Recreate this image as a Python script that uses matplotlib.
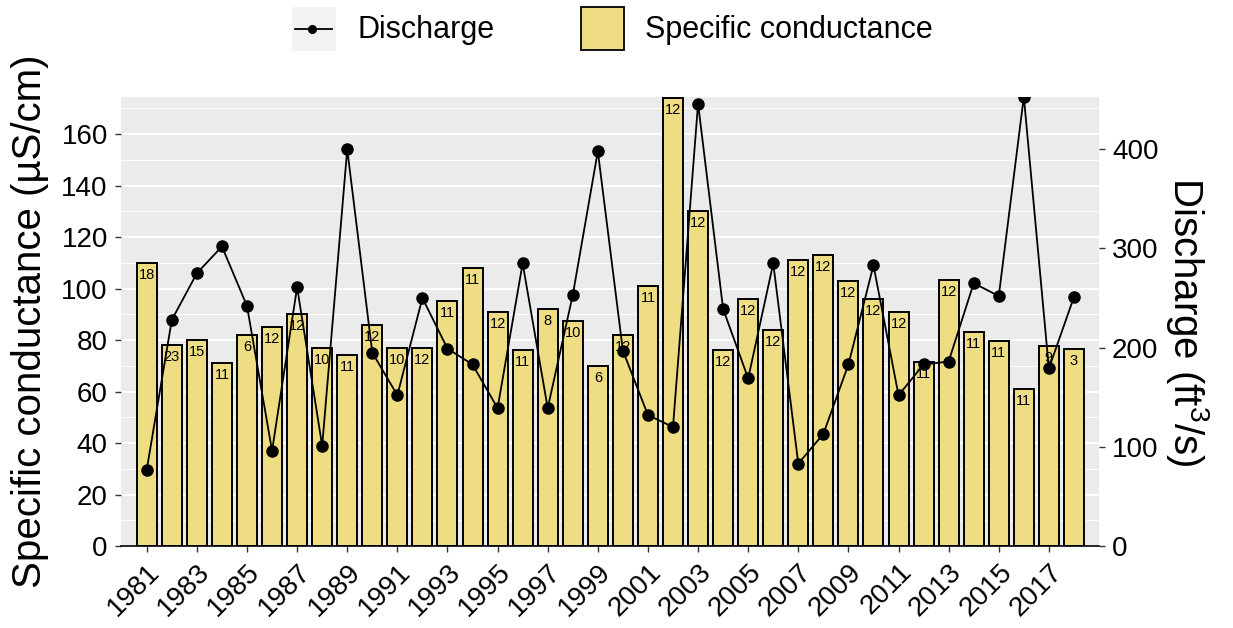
import matplotlib
matplotlib.use("Agg")
import matplotlib.pyplot as plt
from matplotlib.patches import Rectangle
from matplotlib.lines import Line2D
from matplotlib.ticker import MultipleLocator

plt.rcParams['font.family'] = ['Liberation Sans', 'DejaVu Sans']
plt.rcParams['mathtext.default'] = 'regular'

# data
years = list(range(1981, 2019))
spec_cond = [110, 78, 80, 71, 82, 85, 90, 77, 74, 86,
             77, 77, 95, 108, 91, 76, 92, 87.5, 70, 82,
             101, 174, 130, 76, 96, 84, 111, 113, 103, 96,
             91, 71.5, 103.5, 83, 79.5, 61, 77.5, 76.5]
n_samples = [18, 23, 15, 11, 6, 12, 12, 10, 11, 12,
             10, 12, 11, 11, 12, 11, 8, 10, 6, 12,
             11, 12, 12, 12, 12, 12, 12, 12, 12, 12,
             12, 11, 12, 11, 11, 11, 9, 3]
discharge = [77, 228, 275, 302, 242, 96, 261, 101, 400, 195,
             152, 250, 199, 183, 139, 285, 139, 253, 398, 197,
             132, 120, 446, 239, 169, 285, 83, 113, 183, 283,
             152, 183, 186, 265, 252, 453, 179, 251]
xtick_years = years[::2]

W, H = 1233, 628
bar_color = '#EEDD82'

fig = plt.figure(figsize=(W / 100, H / 100), dpi=100)
ax = fig.add_axes([120.7 / W, 1 - 546 / H, (1099 - 120.7) / W, (546 - 96.7) / H])
ax.set_facecolor('#EBEBEB')

ax.bar(years, spec_cond, width=0.8, color=bar_color, edgecolor='black', linewidth=1.4, zorder=2)
for yr, v, n in zip(years, spec_cond, n_samples):
    ax.annotate(str(n), (yr, v), xytext=(0, -3.6), textcoords='offset points',
                ha='center', va='top', fontsize=10.5, zorder=3)

ax.set_xlim(1979.96, 2019.0)
ax.set_ylim(0, 174.5)
ax.yaxis.set_major_locator(MultipleLocator(20))
ax.yaxis.set_minor_locator(MultipleLocator(10))
ax.grid(which='major', axis='y', color='white', linewidth=1.4, zorder=0)
ax.grid(which='minor', axis='y', color='white', linewidth=0.7, zorder=0)
ax.set_axisbelow(True)
ax.set_xticks(xtick_years)
ax.set_xticklabels([str(y) for y in xtick_years])
plt.setp(ax.get_xticklabels(), rotation=45, ha='right', rotation_mode='anchor')
ax.tick_params(axis='both', which='major', labelsize=20, color='#333333', length=4.3, width=1)
ax.tick_params(axis='x', pad=5)
ax.tick_params(axis='y', pad=5)
ax.tick_params(which='minor', length=0)
for s in ['top', 'right', 'left']:
    ax.spines[s].set_visible(False)
ax.spines['bottom'].set_linewidth(1.2)

ax2 = ax.twinx()
ax2.plot(years, discharge, color='black', linewidth=1.3, marker='o', markersize=8, zorder=4)
ax2.set_ylim(0, 453)
ax2.set_yticks([0, 100, 200, 300, 400])
ax2.tick_params(axis='y', labelsize=20, color='#333333', length=4.3, width=1, pad=5)
for s in ['top', 'right', 'left', 'bottom']:
    ax2.spines[s].set_visible(False)

# axis titles
fig.text(30 / W, 1 - 321.5 / H, 'Specific conductance (\u00b5S/cm)', rotation=90,
         ha='center', va='center', fontsize=29)
fig.text(1188 / W, 1 - 321.5 / H, 'Discharge (ft$^3$/s)', rotation=270,
         ha='center', va='center', fontsize=29)

# legend drawn at the top
fig.add_artist(Rectangle((291.7 / W, 1 - 50.7 / H), 44 / W, 44 / H,
                         transform=fig.transFigure, facecolor='#F2F2F2', edgecolor='none'))
fig.add_artist(Line2D([295 / W, 332 / W], [1 - 29.3 / H, 1 - 29.3 / H], transform=fig.transFigure,
                      color='black', linewidth=1.3))
fig.add_artist(Line2D([312 / W], [1 - 29.3 / H], transform=fig.transFigure, color='black',
                      marker='o', markersize=5.5))
fig.text(357 / W, 1 - 30 / H, 'Discharge', ha='left', va='center', fontsize=22)
fig.add_artist(Rectangle((580.5 / W, 1 - 50.2 / H), 43.5 / W, 43.5 / H, transform=fig.transFigure,
                         facecolor=bar_color, edgecolor='black', linewidth=1.3))
fig.text(645 / W, 1 - 30 / H, 'Specific conductance', ha='left', va='center', fontsize=22)

fig.savefig('out.png', dpi=100)
